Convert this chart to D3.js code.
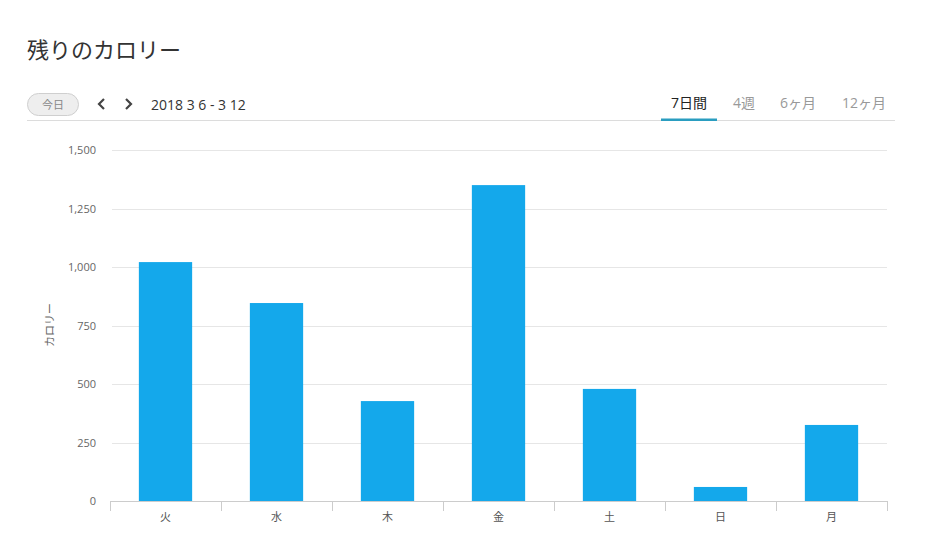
<!DOCTYPE html>
<html><head><meta charset="utf-8">
<script src="https://cdn.jsdelivr.net/npm/d3@7"></script>
<style>
body{margin:0;background:#fff;font-family:"Open Sans","Noto Sans CJK JP",sans-serif;}
</style></head>
<body><svg id="c" width="938" height="553"></svg>
<script>
const categories = ["火","水","木","金","土","日","月"];
const values = [1021, 846, 427, 1350, 479, 60, 325];
const yTicks = [0, 250, 500, 750, 1000, 1250, 1500];
const tabs = ["7日間","4週","6ヶ月","12ヶ月"];
const title = "残りのカロリー";
const dateRange = "2018 3 6 - 3 12";
const yTitle = "カロリー";

const svg = d3.select("#c");
const jp = '"Open Sans","Noto Sans CJK JP",sans-serif';

// header
svg.append("text").attr("x",27).attr("y",58).attr("font-size",22).attr("fill","#333")
  .attr("font-family",jp).text(title);
svg.append("rect").attr("x",27.5).attr("y",93.5).attr("width",51).attr("height",22).attr("rx",11)
  .attr("fill","#eeeeee").attr("stroke","#cfcfcf");
svg.append("text").attr("x",53).attr("y",108.5).attr("text-anchor","middle").attr("font-size",11)
  .attr("fill","#888").attr("font-family",jp).text("今日");
svg.append("path").attr("d","M104,99 L99,104 L104,109").attr("fill","none").attr("stroke","#444").attr("stroke-width",2.2);
svg.append("path").attr("d","M126,99 L131,104 L126,109").attr("fill","none").attr("stroke","#444").attr("stroke-width",2.2);
svg.append("text").attr("x",151).attr("y",110).attr("font-size",14).attr("fill","#333")
  .attr("font-family",jp).text(dateRange);
svg.append("line").attr("x1",27).attr("x2",895).attr("y1",120.5).attr("y2",120.5).attr("stroke","#dcdcdc");
const tabX = [689, 744, 798, 864];
tabs.forEach((t,i)=>{
  svg.append("text").attr("x",tabX[i]).attr("y",108).attr("text-anchor","middle").attr("font-size",14)
    .attr("fill", i===0 ? "#222" : "#999").attr("font-family",jp).text(t);
});
svg.append("rect").attr("x",661).attr("y",118.5).attr("width",56).attr("height",2.5).attr("fill","#2a9dc0");

// chart
const x = d3.scaleBand().domain(categories).range([110,887]).paddingInner(0.52).paddingOuter(0.26);
const y = d3.scaleLinear().domain([0,1500]).range([501,150]);

const grid = svg.append("g");
grid.selectAll("line").data(yTicks.filter(d=>d>0)).join("line")
  .attr("x1",112).attr("x2",887).attr("y1",d=>Math.round(y(d))+0.5).attr("y2",d=>Math.round(y(d))+0.5)
  .attr("stroke","#e6e6e6");

svg.append("g").selectAll("text").data(yTicks).join("text")
  .attr("x",96).attr("y",d=>y(d)+4).attr("text-anchor","end").attr("font-size",11)
  .attr("fill","#666").attr("font-family",jp).text(d=>d3.format(",")(d));

svg.append("g").selectAll("rect").data(values).join("rect")
  .attr("x",(d,i)=>x(categories[i])).attr("width",x.bandwidth())
  .attr("y",d=>y(d)).attr("height",d=>y(0)-y(d)).attr("fill","#14a8eb");

// x axis
const xa = svg.append("g");
xa.append("line").attr("x1",110).attr("x2",887).attr("y1",501.5).attr("y2",501.5).attr("stroke","#ccc");
const step = (887-110)/categories.length;
xa.selectAll("line.t").data(d3.range(categories.length+1)).join("line").attr("class","t")
  .attr("x1",d=>Math.round(110+d*step)+0.5).attr("x2",d=>Math.round(110+d*step)+0.5)
  .attr("y1",501).attr("y2",511).attr("stroke","#ccc");
xa.selectAll("text").data(categories).join("text")
  .attr("x",d=>x(d)+x.bandwidth()/2).attr("y",521).attr("text-anchor","middle").attr("font-size",11)
  .attr("fill","#555").attr("font-family",jp).text(d=>d);

svg.append("text").attr("transform","translate(54,325) rotate(-90)").attr("text-anchor","middle")
  .attr("font-size",11).attr("fill","#666").attr("font-family",jp).text(yTitle);
</script></body></html>
